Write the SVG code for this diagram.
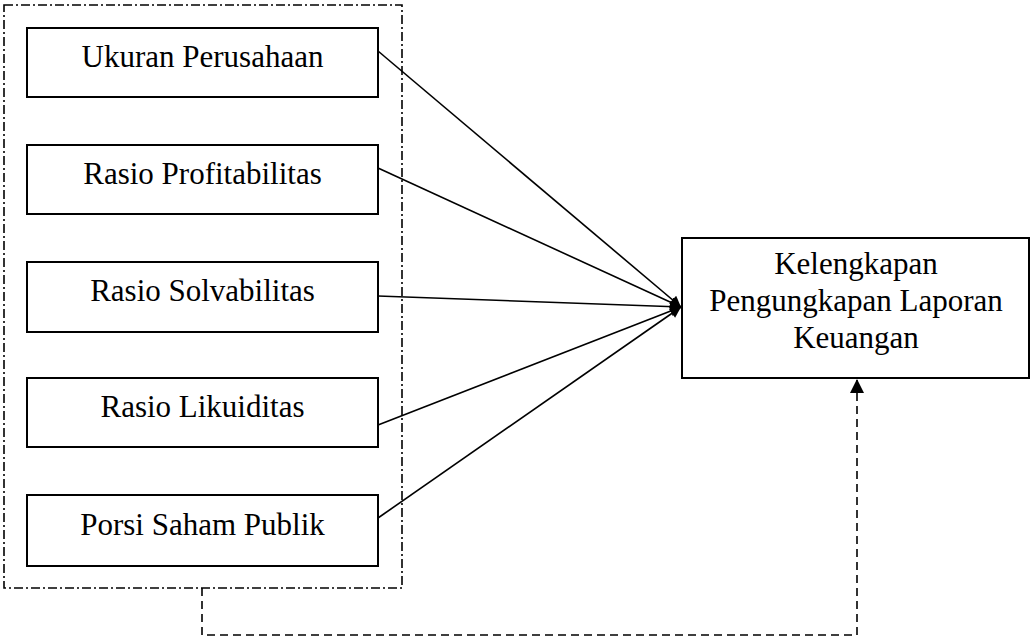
<svg xmlns="http://www.w3.org/2000/svg" width="1030" height="639" viewBox="0 0 1030 639">
<style>
.box{fill:#fff;stroke:#000;stroke-width:2}
.lbl{font-family:"Liberation Serif","Times New Roman",serif;font-size:31px;fill:#000;text-anchor:middle}
.conn{stroke:#000;stroke-width:1.6;fill:none}
</style>
<defs>
<marker id="ah" viewBox="0 0 10 10" refX="10" refY="5" markerWidth="13" markerHeight="11" markerUnits="userSpaceOnUse" orient="auto">
<path d="M0,0 L10,5 L0,10 z" fill="#000"/>
</marker>
<marker id="ah2" viewBox="0 0 10 10" refX="10" refY="5" markerWidth="14" markerHeight="14" markerUnits="userSpaceOnUse" orient="auto">
<path d="M0,0 L10,5 L0,10 z" fill="#000"/>
</marker>
</defs>
<rect id="group-frame" x="4" y="5" width="398" height="583" fill="none" stroke="#000" stroke-width="1.6" stroke-dasharray="9,3,2,3"/>
<g id="n1"><rect class="box" x="27" y="28" width="351" height="69"/><text class="lbl" x="202.5" y="67">Ukuran Perusahaan</text></g>
<g id="n2"><rect class="box" x="27" y="145" width="351" height="69"/><text class="lbl" x="202.5" y="184">Rasio Profitabilitas</text></g>
<g id="n3"><rect class="box" x="27" y="262" width="351" height="70"/><text class="lbl" x="202.5" y="301">Rasio Solvabilitas</text></g>
<g id="n4"><rect class="box" x="27" y="378" width="351" height="69"/><text class="lbl" x="202.5" y="417">Rasio Likuiditas</text></g>
<g id="n5"><rect class="box" x="27" y="495" width="351" height="71"/><text class="lbl" x="202.5" y="535">Porsi Saham Publik</text></g>
<g id="target"><rect class="box" x="682" y="238" width="347" height="140"/>
<text class="lbl" x="856" y="274">Kelengkapan</text>
<text class="lbl" x="856" y="311">Pengungkapan Laporan</text>
<text class="lbl" x="856" y="348">Keuangan</text></g>
<g id="connectors">
<line class="conn" x1="378" y1="51" x2="681" y2="307" marker-end="url(#ah)"/>
<line class="conn" x1="378" y1="168" x2="681" y2="307" marker-end="url(#ah)"/>
<line class="conn" x1="378" y1="296" x2="681" y2="307" marker-end="url(#ah)"/>
<line class="conn" x1="378" y1="425" x2="681" y2="307" marker-end="url(#ah)" stroke-width="2.2"/>
<line class="conn" x1="378" y1="518" x2="681" y2="307" marker-end="url(#ah)"/>
<path class="conn" d="M202,588 V635 H857 V379" stroke-dasharray="8,5" marker-end="url(#ah2)"/>
</g>
</svg>
